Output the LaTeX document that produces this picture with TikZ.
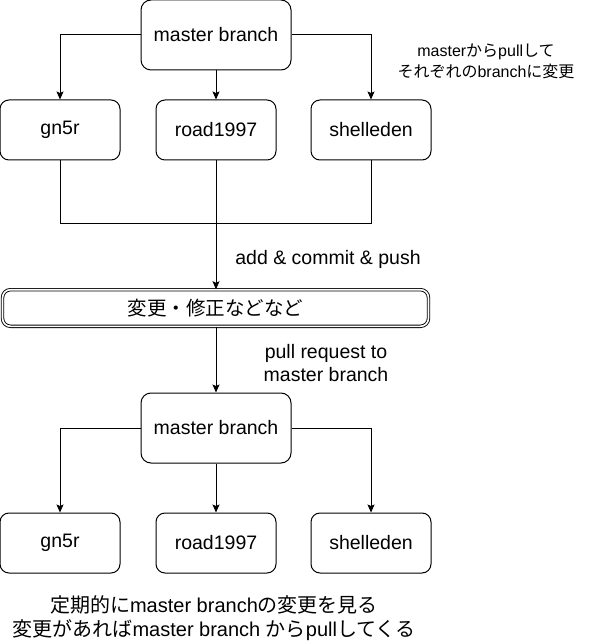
\documentclass[tikz,border=0pt]{standalone}
\usepackage{fontspec}
\setmainfont{Liberation Sans}
\newfontfamily\cjk{Noto Sans CJK JP}
\usetikzlibrary{arrows.meta}
\begin{document}
\begin{tikzpicture}[x=1pt,y=-1pt,
  box/.style={draw, line width=1pt, rounded corners=9pt, minimum width=120pt, minimum height=60pt, inner sep=0pt, font=\fontsize{19.5}{23}\selectfont},
  mbox/.style={box, minimum width=150pt, minimum height=70pt, rounded corners=10pt},
  dbox/.style={draw, line width=0.9pt, double, double distance=1.6pt, rounded corners=8pt, minimum width=426pt, minimum height=36.6pt, inner sep=0pt, font=\fontsize{19.5}{23}\selectfont\cjk},
  lbl/.style={align=center, inner sep=0pt, font=\fontsize{19.5}{23}\selectfont},
  small/.style={align=center, inner sep=0pt, font=\fontsize{16}{21}\selectfont},
  conn/.style={line width=1pt},
  arr/.style={conn, -{Stealth[length=8pt,width=7pt,inset=1.5pt]}}
]
\useasboundingbox (0,0) rectangle (591,644);

% top level
\node[mbox] (m1) at (216,35) {master branch};
\node[box] (g1) at (60,130) {gn5r};
\node[box] (r1) at (216,130) {road1997};
\node[box] (s1) at (371,130) {shelleden};

\draw[arr] (m1.west) -| (g1.north);
\draw[arr] (m1.south) -- (r1.north);
\draw[arr] (m1.east) -| (s1.north);

\node[small] (t1) at (486,61) {master{\cjk から}pull{\cjk して}\\{\cjk それぞれの}branch{\cjk に変更}};

% merge
\node[dbox] (ch) at (215.5,308) {変更・修正などなど};
\coordinate (j) at (216,223);
\draw[conn] (g1.south) -- (g1.south |- j) -- (s1.south |- j) -- (s1.south);
\draw[arr] (r1.south) -- (r1.south |- ch.north);

\node[lbl] (t2) at (328,259) {add \& commit \& push};

% second level
\node[mbox] (m2) at (216,428) {master branch};
\draw[arr] (r1.south |- ch.south) -- (m2.north);
\node[lbl] (t3) at (326,363) {pull request to\\master branch};

\node[box] (g2) at (60,543) {gn5r};
\node[box] (r2) at (216,543) {road1997};
\node[box] (s2) at (371,543) {shelleden};

\draw[arr] (m2.west) -| (g2.north);
\draw[arr] (m2.south) -- (r2.north);
\draw[arr] (m2.east) -| (s2.north);

\node[lbl, font=\fontsize{20}{23.5}\selectfont] (t4) at (214,618) {{\cjk 定期的に}master branch{\cjk の変更を見る}\\{\cjk 変更があれば}master branch {\cjk から}pull{\cjk してくる}};
\end{tikzpicture}
\end{document}
